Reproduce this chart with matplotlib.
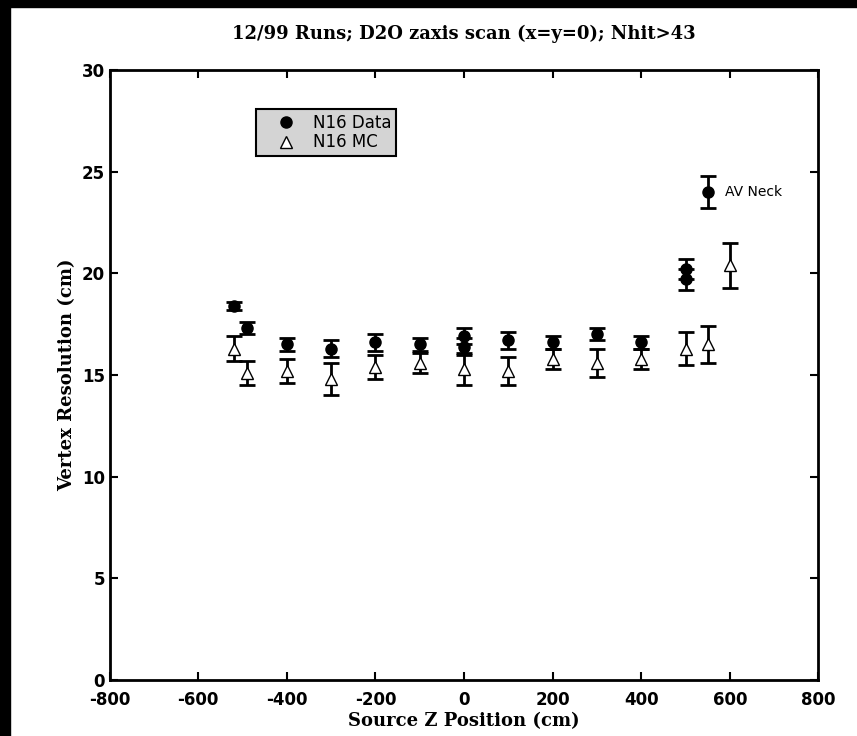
import matplotlib
matplotlib.use("Agg")
import matplotlib.pyplot as plt
from matplotlib.patches import Rectangle
from matplotlib.lines import Line2D

plt.rcParams["axes.unicode_minus"] = False

# N16 data (filled circles)
data_z = [-520, -490, -400, -300, -200, -100, 0, 0, 100, 200, 300, 400, 500, 500, 550]
data_res = [18.4, 17.3, 16.5, 16.3, 16.6, 16.5, 16.9, 16.4, 16.7, 16.6, 17.0, 16.6, 20.2, 19.7, 24.0]
data_err = [0.2, 0.3, 0.3, 0.4, 0.4, 0.3, 0.4, 0.4, 0.4, 0.3, 0.3, 0.3, 0.5, 0.5, 0.8]

# N16 MC (open triangles)
mc_z = [-520, -490, -400, -300, -200, -100, 0, 100, 200, 300, 400, 500, 550, 600]
mc_res = [16.3, 15.1, 15.2, 14.8, 15.4, 15.6, 15.3, 15.2, 15.8, 15.6, 15.8, 16.3, 16.5, 20.4]
mc_err = [0.6, 0.6, 0.6, 0.8, 0.6, 0.5, 0.8, 0.7, 0.5, 0.7, 0.5, 0.8, 0.9, 1.1]

fig = plt.figure(figsize=(8.57, 7.36), dpi=100)
# scan border
fig.patches.append(Rectangle((0, 0), 0.012, 1, transform=fig.transFigure, color="black", zorder=10))
fig.patches.append(Rectangle((0, 0.99), 1, 0.01, transform=fig.transFigure, color="black", zorder=10))

ax = fig.add_axes([0.128, 0.076, 0.827, 0.829])

ax.errorbar(data_z, data_res, yerr=data_err, fmt="o", color="black", ms=8,
            capsize=6, elinewidth=2, capthick=2)
ax.errorbar(mc_z, mc_res, yerr=mc_err, fmt="^", color="black", mfc="white", ms=8,
            capsize=6, elinewidth=2, capthick=2)

ax.set_xlim(-800, 800)
ax.set_ylim(0, 30)
ax.set_xticks(range(-800, 801, 200))
ax.set_yticks(range(0, 31, 5))
ax.tick_params(direction="in", length=6, width=1.5, top=True, right=True,
               labelsize=12)
ax.tick_params(axis="x", pad=8)
for lbl in ax.get_xticklabels() + ax.get_yticklabels():
    lbl.set_fontweight("bold")
for s in ax.spines.values():
    s.set_linewidth(2)

ax.set_title("12/99 Runs; D2O zaxis scan (x=y=0); Nhit>43", fontsize=13,
             fontweight="bold", family="serif", pad=22)
ax.set_xlabel("Source Z Position (cm)", fontsize=13, fontweight="bold", family="serif",
              labelpad=2)
ax.set_ylabel("Vertex Resolution (cm)", fontsize=13, fontweight="bold", family="serif")

ax.text(590, 24, "AV Neck", fontsize=10, va="center")

handles = [Line2D([], [], ls="none", marker="o", color="black", ms=8),
           Line2D([], [], ls="none", marker="^", color="black", mfc="white", ms=8)]
leg = ax.legend(handles, ["N16 Data", "N16 MC"], loc="upper left",
                bbox_to_anchor=(0.195, 0.95), fontsize=12, frameon=True,
                fancybox=False, handletextpad=0.1, borderpad=0.3,
                handlelength=3.0, labelspacing=0.1, markerfirst=True)
leg.get_frame().set_facecolor("#d4d4d4")
leg.get_frame().set_edgecolor("black")
leg.get_frame().set_linewidth(1.5)
leg.get_frame().set_alpha(1)

fig.savefig("out.png", dpi=100)
